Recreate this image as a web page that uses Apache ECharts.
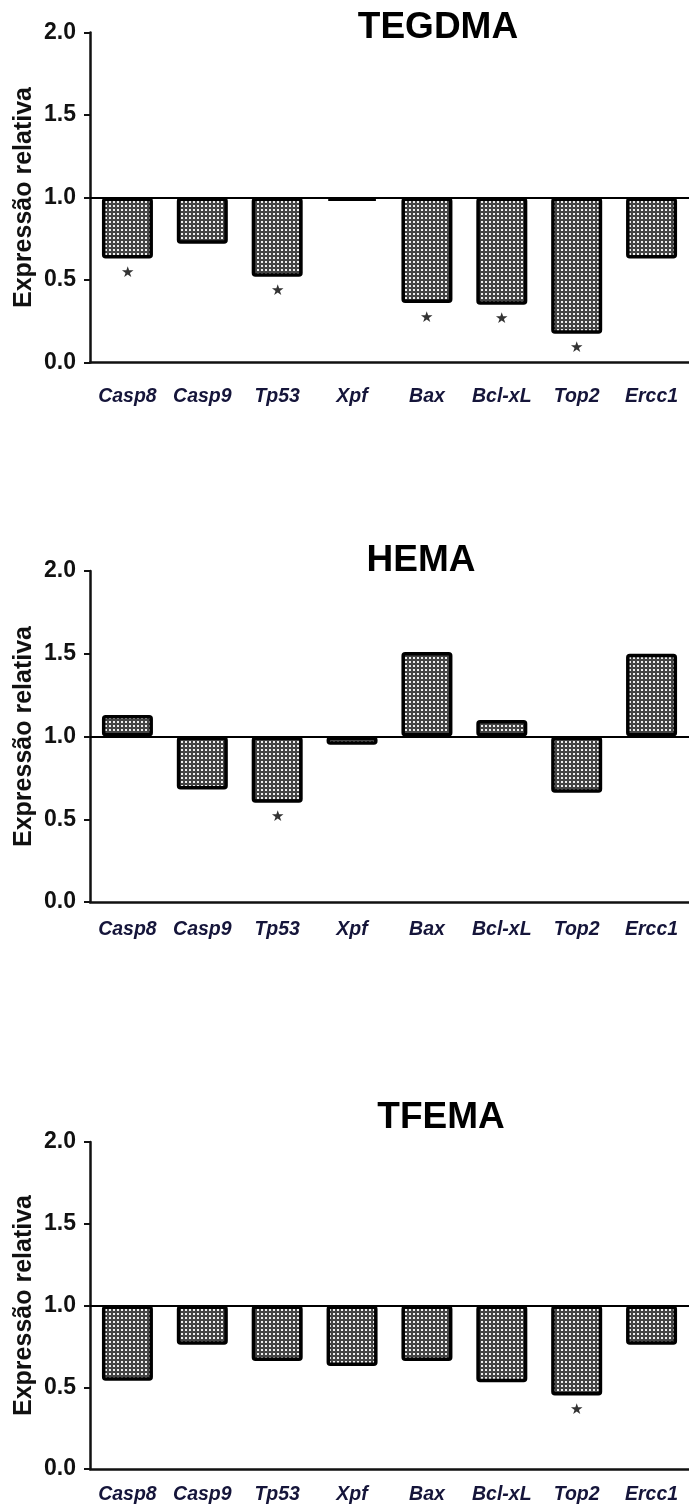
<!DOCTYPE html>
<html lang="pt">
<head>
<meta charset="utf-8">
<title>Expressão relativa</title>
</head>
<body style="margin: 0; background: #fff">
<div id="container" style="width: 689px; height: 1506px"></div>

<script type="text/javascript" src="https://cdn.jsdelivr.net/npm/echarts@6/dist/echarts.min.js"></script>

<script type="text/javascript">

var genes = ['Casp8', 'Casp9', 'Tp53', 'Xpf', 'Bax', 'Bcl-xL', 'Top2', 'Ercc1'];
var panelNames = ['TEGDMA', 'HEMA', 'TFEMA'];

// relative expression (baseline = 1.0)
var tegdma = [0.63, 0.72, 0.52, 0.98, 0.36, 0.35, 0.175, 0.63];
var hema = [1.13, 0.68, 0.60, 0.95, 1.51, 1.10, 0.66, 1.50];
var tfema = [0.54, 0.76, 0.66, 0.63, 0.66, 0.53, 0.45, 0.76];

// 1 = marked with an asterisk
var sigTegdma = [1, 0, 1, 0, 1, 1, 1, 0];
var sigHema = [0, 0, 1, 0, 0, 0, 0, 0];
var sigTfema = [0, 0, 0, 0, 0, 0, 1, 0];

var yMin = 0, yMax = 2, yStep = 0.5;
var baseline = 1;

var dom = document.getElementById('container');
var myChart = echarts.init(dom);

// checkered fill like the original bars
var tile = document.createElement('canvas');
tile.width = 4;
tile.height = 4;
var ctx = tile.getContext('2d');
ctx.fillStyle = '#444';
ctx.fillRect(0, 0, 4, 4);
ctx.fillStyle = '#eee';
ctx.fillRect(1, 1, 2, 2);

var font = "'Liberation Sans', Arial, sans-serif";

var panels = [
    {values: tegdma, sig: sigTegdma, top: 32.5, height: 330, titleX: 438, titleY: 28, labelMargin: 24},
    {values: hema, sig: sigHema, top: 571, height: 331, titleX: 421, titleY: 561, labelMargin: 18},
    {values: tfema, sig: sigTfema, top: 1142, height: 327, titleX: 441, titleY: 1118, labelMargin: 16}
];

var grids = [], xAxes = [], yAxes = [], series = [], graphics = [];

panels.forEach(function (p, i) {
    grids.push({left: 90, right: 0, top: p.top, height: p.height});

    xAxes.push({
        type: 'category',
        gridIndex: i,
        data: genes,
        axisLine: {lineStyle: {color: '#111', width: 2.5}},
        axisTick: {alignWithLabel: true, length: 8, lineStyle: {color: '#111', width: 2}},
        axisLabel: {
            interval: 0,
            margin: p.labelMargin,
            color: '#15153a',
            fontFamily: font,
            fontWeight: 'bold',
            fontStyle: 'italic',
            fontSize: 19.5
        }
    });

    yAxes.push({
        type: 'value',
        gridIndex: i,
        min: yMin,
        max: yMax,
        interval: yStep,
        name: 'Expressão relativa',
        nameLocation: 'middle',
        nameGap: 53,
        nameMoveOverlap: false,
        nameTextStyle: {color: '#111', fontFamily: font, fontWeight: 'bold', fontSize: 25},
        splitLine: {show: false},
        axisLine: {show: true, lineStyle: {color: '#111', width: 2.5}},
        axisTick: {show: true, length: 6, lineStyle: {color: '#111', width: 2}},
        axisLabel: {
            margin: 14,
            color: '#111',
            fontFamily: font,
            fontWeight: 'bold',
            fontSize: 23,
            formatter: function (v) { return v.toFixed(1); }
        }
    });

    // invisible part from 0 up to the lower end of each bar
    series.push({
        type: 'bar',
        xAxisIndex: i,
        yAxisIndex: i,
        stack: 'p' + i,
        barWidth: 51,
        silent: true,
        itemStyle: {color: 'transparent'},
        data: p.values.map(function (v) { return Math.min(v, baseline); })
    });

    // visible bar between the value and 1.0
    series.push({
        type: 'bar',
        xAxisIndex: i,
        yAxisIndex: i,
        stack: 'p' + i,
        barWidth: 51,
        itemStyle: {
            color: {image: tile, repeat: 'repeat'},
            borderColor: '#000',
            borderWidth: 3.5,
            borderRadius: 2
        },
        label: {
            position: 'bottom',
            distance: 7,
            formatter: '★',
            color: '#333',
            fontSize: 15
        },
        data: p.values.map(function (v, k) {
            return {value: Math.abs(v - baseline), label: {show: p.sig[k] === 1}};
        }),
        markLine: {
            silent: true,
            symbol: ['none', 'none'],
            label: {show: false},
            lineStyle: {color: '#000', width: 2, type: 'solid'},
            data: [{yAxis: baseline}]
        }
    });

    graphics.push({
        type: 'text',
        x: p.titleX,
        y: p.titleY,
        style: {
            text: panelNames[i],
            fill: '#000',
            font: 'bold 37px ' + font,
            textAlign: 'center',
            textVerticalAlign: 'middle'
        }
    });
});

var option = {
    animation: false,
    backgroundColor: '#fff',
    grid: grids,
    xAxis: xAxes,
    yAxis: yAxes,
    series: series,
    graphic: graphics
};

myChart.setOption(option);
window.addEventListener('resize', myChart.resize);
</script>
</body>
</html>
